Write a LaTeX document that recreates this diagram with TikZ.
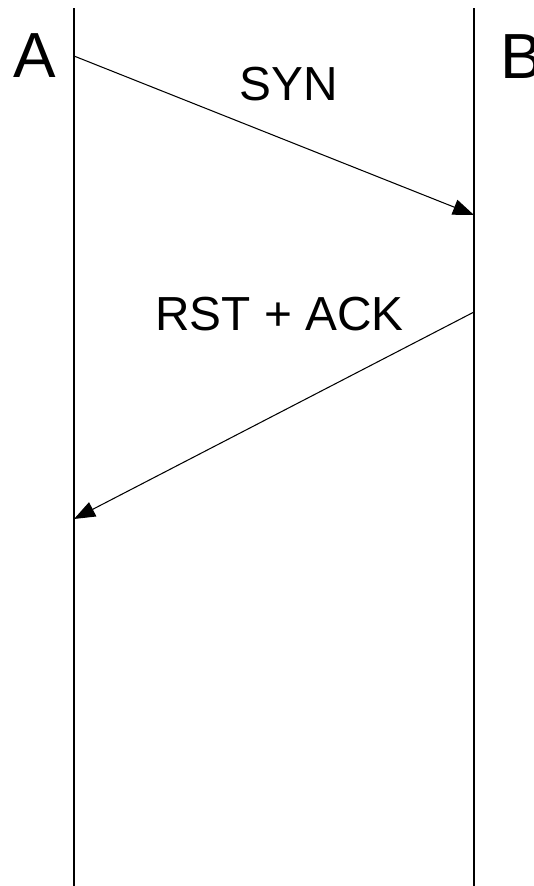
\documentclass[tikz,border=0pt]{standalone}
\usepackage{fontspec}
\setmainfont{Liberation Sans}
\usetikzlibrary{arrows.meta}
\begin{document}
\begin{tikzpicture}[x=0.02cm,y=-0.02cm,line width=0.6pt]
  % Styles
  \tikzstyle{lifeline}=[]
  \tikzstyle{message}=[-{Triangle[length=12pt,width=9pt]}]
  \tikzstyle{host label}=[inner sep=0pt,font=\fontsize{36.3}{40}\selectfont]
  \tikzstyle{message label}=[inner sep=0pt,font=\fontsize{27.2}{30}\selectfont]

  \useasboundingbox (0,0) rectangle (534,886);

  % Lifelines
  \coordinate (A top) at (74,8);
  \coordinate (A bottom) at (74,886);
  \coordinate (B top) at (474,8);
  \coordinate (B bottom) at (474,886);

  \draw[style=lifeline] (A top) -- (A bottom);
  \draw[style=lifeline] (B top) -- (B bottom);

  \node[style=host label,anchor=base] (A) at (34.5,77) {A};
  \node[style=host label,anchor=base west] (B) at (500,78) {B};

  % The messages
  \coordinate (syn start) at (74,56);
  \coordinate (syn end) at (474,215);
  \coordinate (rst start) at (474,312);
  \coordinate (rst end) at (74,519);

  \draw[style=message] (syn start) -- (syn end);
  \draw[style=message] (rst start) -- (rst end);

  \node[style=message label,anchor=base] (syn) at (289,100) {SYN};
  \node[style=message label,anchor=base] (rst ack) at (279.5,330) {RST + ACK};
\end{tikzpicture}
\end{document}
